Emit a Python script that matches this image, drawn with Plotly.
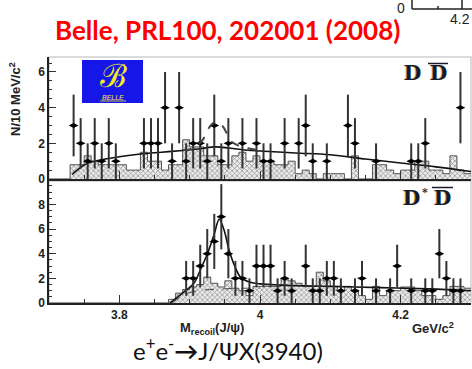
import numpy as np
import plotly.graph_objects as go

W, H = 472, 369

# 10 MeV/c^2 bins covering 3.70 - 4.30 GeV/c^2
bin_lo = np.round(3.70 + 0.01 * np.arange(60), 2)
bin_w = 0.01

# ---------------- D Dbar panel ----------------
dd_mass = [3.735, 3.745, 3.755, 3.765, 3.775, 3.785, 3.795, 3.835, 3.845, 3.855,
           3.865, 3.875, 3.885, 3.895, 3.905, 3.915, 3.925, 3.935, 3.945, 3.955,
           3.975, 3.995, 4.005, 4.015, 4.035, 4.055, 4.065, 4.075, 4.095, 4.125,
           4.135, 4.165, 4.215, 4.225, 4.235, 4.285]
dd_counts = [3, 2, 1, 2, 1, 2, 1, 2, 2, 2,
             4, 1, 4, 1, 2, 2, 1, 3, 1, 2,
             2, 2, 1, 1, 2, 2, 3, 1, 1, 3,
             2, 1, 1, 1, 2, 4]
# sideband background histogram (one value per bin)
dd_bkg = [0, 0, 0, 0.8, 0.8, 1.3, 1.0, 0.8, 0.8, 0.8,
          0.8, 0.5, 0.5, 1.5, 1.0, 1.0, 0.5, 0.8, 0.8, 2.2,
          1.8, 1.8, 1.3, 1.3, 0.8, 0.8, 1.3, 1.5, 1.0, 1.3,
          1.0, 1.0, 0.8, 0.8, 1.0, 0.3, 0.5, 0.3, 0.0, 0.3,
          0.3, 0.3, 0.0, 1.3, 0.0, 0.0, 0.8, 0.8, 0.5, 0.3,
          0.5, 0.5, 1.0, 1.0, 0.5, 0.5, 0.3, 1.3, 0.5, 0.3]
# fit result (solid)
dd_fit_m = [3.733, 3.74, 3.75, 3.76, 3.78, 3.80, 3.83, 3.86, 3.89, 3.915,
            3.937, 3.955, 3.975, 4.00, 4.05, 4.10, 4.15, 4.20, 4.25, 4.30]
dd_fit_n = [0.25, 0.5, 0.78, 0.95, 1.12, 1.25, 1.4, 1.5, 1.6, 1.7,
            1.8, 1.74, 1.64, 1.57, 1.46, 1.36, 1.12, 0.9, 0.68, 0.42]
# fit with X(3940) at the upper limit (dashed)
dd_lim_m = [3.89, 3.904, 3.918, 3.928, 3.937, 3.947, 3.954, 3.961, 3.971, 3.983, 4.0]
dd_lim_n = [1.62, 1.7, 2.17, 2.9, 3.2, 2.96, 2.45, 2.04, 1.85, 1.72, 1.6]

# ---------------- D* Dbar panel ----------------
dsd_mass = [3.895, 3.905, 3.915, 3.925, 3.935, 3.945, 3.955, 3.965, 3.975, 3.985,
            3.995, 4.005, 4.015, 4.025, 4.035, 4.045, 4.065, 4.075, 4.085, 4.095,
            4.105, 4.115, 4.135, 4.145, 4.165, 4.185, 4.195, 4.215, 4.235, 4.245,
            4.255, 4.265, 4.275, 4.285]
dsd_counts = [2, 2, 3, 4, 5, 7, 4, 2, 2, 1,
              3, 3, 3, 1, 2, 1, 3, 1, 1, 2,
              2, 1, 1, 2, 1, 1, 3, 1, 1, 1,
              4, 2, 1, 1]
dsd_bkg = [0, 0, 0, 0, 0, 0, 0, 0, 0, 0,
           0, 0, 0, 0, 0, 0, 0, 0.3, 0.8, 1.1,
           1.3, 1.5, 2.1, 1.6, 1.3, 1.8, 1.2, 1.0, 0.6, 1.35,
           1.35, 1.35, 1.35, 2.0, 1.8, 1.6, 1.35, 1.35, 2.5, 1.8,
           1.35, 1.0, 1.35, 1.0, 0.6, 0.3, 1.35, 0.6, 1.0, 1.0,
           1.3, 1.3, 1.0, 0.6, 0.6, 0.3, 0.6, 1.35, 1.35, 1.2]
dsd_fit_m = [3.872, 3.88, 3.892, 3.906, 3.916, 3.926, 3.935, 3.942, 3.949, 3.956,
             3.964, 3.973, 3.985, 4.00, 4.03, 4.10, 4.17, 4.24, 4.30]
dsd_fit_n = [0.0, 0.35, 0.9, 1.6, 2.8, 4.1, 5.6, 6.8, 5.9, 4.3,
             3.0, 2.05, 1.7, 1.55, 1.45, 1.35, 1.25, 1.15, 1.0]
dsd_bfit_m = [3.875, 3.89, 3.90, 3.92, 3.95, 3.98, 4.00]
dsd_bfit_n = [0.0, 0.6, 0.85, 1.05, 1.15, 1.2, 1.22]

x_ticks = [3.8, 4.0, 4.2]
x_ticktext = ["3.8", "4", "4.2"]


def px(x):
    return x / W


def py(y):
    return 1 - y / H


HATCH = dict(shape="x", fgcolor="#444444", bgcolor="#ececec", size=3.5, solidity=0.42)

fig = go.Figure()


def add_panel(xa, ya, bkg, fit_m, fit_n, mass, counts):
    # sideband histogram, hatched, with a step outline on top
    fig.add_trace(go.Bar(
        x=bin_lo + bin_w / 2, y=bkg, width=bin_w,
        marker=dict(color="#ececec", pattern=HATCH, line=dict(width=0)),
        xaxis=xa, yaxis=ya, showlegend=False, hoverinfo="skip"))
    step_x = list(bin_lo) + [round(bin_lo[-1] + bin_w, 2)]
    step_y = list(bkg) + [bkg[-1]]
    fig.add_trace(go.Scatter(
        x=step_x, y=step_y, mode="lines", line=dict(shape="hv", color="#555", width=1),
        xaxis=xa, yaxis=ya, showlegend=False, hoverinfo="skip"))
    fig.add_trace(go.Scatter(
        x=fit_m, y=fit_n, mode="lines",
        line=dict(shape="spline", smoothing=1.0, color="#111", width=1.6),
        xaxis=xa, yaxis=ya, showlegend=False))
    fig.add_trace(go.Scatter(
        x=mass, y=counts, mode="markers",
        marker=dict(symbol="diamond-wide", size=7, color="#000"),
        error_y=dict(type="data", array=np.sqrt(np.array(counts, dtype=float)),
                     symmetric=True, color="#333", thickness=2, width=0),
        xaxis=xa, yaxis=ya, showlegend=False))


add_panel("x", "y", dd_bkg, dd_fit_m, dd_fit_n, dd_mass, dd_counts)
fig.add_trace(go.Scatter(
    x=dd_lim_m, y=dd_lim_n, mode="lines",
    line=dict(shape="spline", smoothing=1.0, color="#444", width=2, dash="dash"),
    xaxis="x", yaxis="y", showlegend=False))

add_panel("x2", "y2", dsd_bkg, dsd_fit_m, dsd_fit_n, dsd_mass, dsd_counts)
fig.add_trace(go.Scatter(
    x=dsd_bfit_m, y=dsd_bfit_n, mode="lines",
    line=dict(shape="spline", color="#444", width=1, dash="dash"),
    xaxis="x2", yaxis="y2", showlegend=False))

tickfont = dict(family="Liberation Sans", size=12, color="#222", weight="bold")
xdom = [px(49), px(471)]

common_x = dict(range=[3.70, 4.30], tickvals=x_ticks, ticktext=x_ticktext,
                ticks="inside", ticklen=8, tickwidth=1, tickcolor="#333",
                minor=dict(dtick=0.05, tick0=3.7, ticks="inside", ticklen=4, tickcolor="#333"),
                showline=True, linecolor="#222", linewidth=1.5, showgrid=False,
                zeroline=False, tickfont=tickfont, domain=xdom, automargin=False)
common_y = dict(ticks="inside", ticklen=7, tickcolor="#333",
                showline=True, linecolor="#222", linewidth=1.5, showgrid=False,
                zeroline=False, tickfont=tickfont, automargin=False)

fig.update_layout(
    width=W, height=H, margin=dict(l=0, r=0, t=0, b=0, autoexpand=False),
    paper_bgcolor="white", plot_bgcolor="white", bargap=0,
    xaxis=dict(common_x, anchor="y", showticklabels=False),
    yaxis=dict(common_y, range=[0, 6.84], domain=[py(179), py(57)], anchor="x",
               tickvals=[0, 2, 4, 6],
               minor=dict(dtick=0.5, ticks="inside", ticklen=3, tickcolor="#333")),
    xaxis2=dict(common_x, anchor="y2"),
    yaxis2=dict(common_y, range=[0, 9.9], domain=[py(303), py(181)], anchor="x2",
                tickvals=[0, 2, 4, 6, 8],
                minor=dict(dtick=0.5, ticks="inside", ticklen=3, tickcolor="#333")),
)

shapes = []
# light frames around both panels
for y0, y1 in [(57, 179), (181, 303)]:
    shapes.append(dict(type="rect", xref="paper", yref="paper",
                       x0=px(49), x1=px(471), y0=py(y1), y1=py(y0),
                       line=dict(color="#cfcfcf", width=1.5), layer="below"))
# Belle logo box
shapes.append(dict(type="rect", xref="paper", yref="paper",
                   x0=px(82), x1=px(143), y0=py(103), y1=py(60),
                   fillcolor="#1616e8", line=dict(width=0)))
shapes.append(dict(type="line", xref="paper", yref="paper",
                   x0=px(100), x1=px(126), y0=py(101), y1=py(101),
                   line=dict(color="#f2ee20", width=0.8)))
# bars over the anti-D labels
shapes.append(dict(type="line", xref="paper", yref="paper",
                   x0=px(428), x1=px(448), y0=py(63.5), y1=py(63.5),
                   line=dict(color="#1a1a2e", width=1.5)))
shapes.append(dict(type="line", xref="paper", yref="paper",
                   x0=px(432), x1=px(453), y0=py(187.5), y1=py(187.5),
                   line=dict(color="#1a1a2e", width=1.5)))
# axis fragment in the upper right corner
shapes.append(dict(type="line", xref="paper", yref="paper",
                   x0=px(412), x1=px(472), y0=py(9), y1=py(9),
                   line=dict(color="#222", width=1.5)))
for xt, ytop in [(412, 0), (438, 6), (462, 0)]:
    shapes.append(dict(type="line", xref="paper", yref="paper",
                       x0=px(xt), x1=px(xt), y0=py(9), y1=py(ytop),
                       line=dict(color="#222", width=1.5)))

fig.update_layout(shapes=shapes)

ann = []


def label(x, y, text, size, color="#000", family="Liberation Sans", weight="normal",
          xanchor="center", angle=0, shadow=None):
    font = dict(family=family, size=size, color=color, weight=weight)
    if shadow:
        font["shadow"] = shadow
    ann.append(dict(x=px(x), y=py(y), xref="paper", yref="paper", text=text,
                    showarrow=False, font=font, xanchor=xanchor, yanchor="middle",
                    textangle=angle))


label(227, 30, "Belle, PRL100, 202001 (2008)", 26, color="#ff0000", family="Lato", weight="bold")
label(15, 99, "N/10 MeV/c<sup>2</sup>", 13, color="#222", weight="bold", angle=-90)
label(212, 328, "M<sub>recoil</sub>(J/ψ)", 13, color="#222", weight="bold")
label(433, 328, "GeV/c<sup>2</sup>", 13, color="#222", weight="bold")
label(228, 349, "e<sup>+</sup>e<sup>-</sup><b>→</b>J/ΨX(3940)", 24, color="#111", family="Lato")
# decay-mode labels
label(412, 73, "D", 20, color="#101a30", family="DejaVu Serif", weight="bold",
      shadow="-1px 0px 0px #c89a30")
label(438, 73, "D", 20, color="#101a30", family="DejaVu Serif", weight="bold",
      shadow="-1px 0px 0px #c89a30")
label(411, 198, "D", 20, color="#101a30", family="DejaVu Serif", weight="bold",
      shadow="-1px 0px 0px #c89a30")
label(424.5, 192, "*", 11, color="#101a30", family="DejaVu Serif", weight="bold")
label(442, 198, "D", 20, color="#101a30", family="DejaVu Serif", weight="bold",
      shadow="-1px 0px 0px #c89a30")
# logo lettering
label(113, 76, "ℬ", 32, color="#f2ee20", family="DejaVu Serif")
label(113, 97.5, "<i>BELLE</i>", 7, color="#f2ee20")
# corner fragment
label(401, 8, "0", 14, color="#222")
label(448, 19, "4.2", 14, color="#222", xanchor="left")

fig.update_layout(annotations=ann)

fig.write_html("out.html")
